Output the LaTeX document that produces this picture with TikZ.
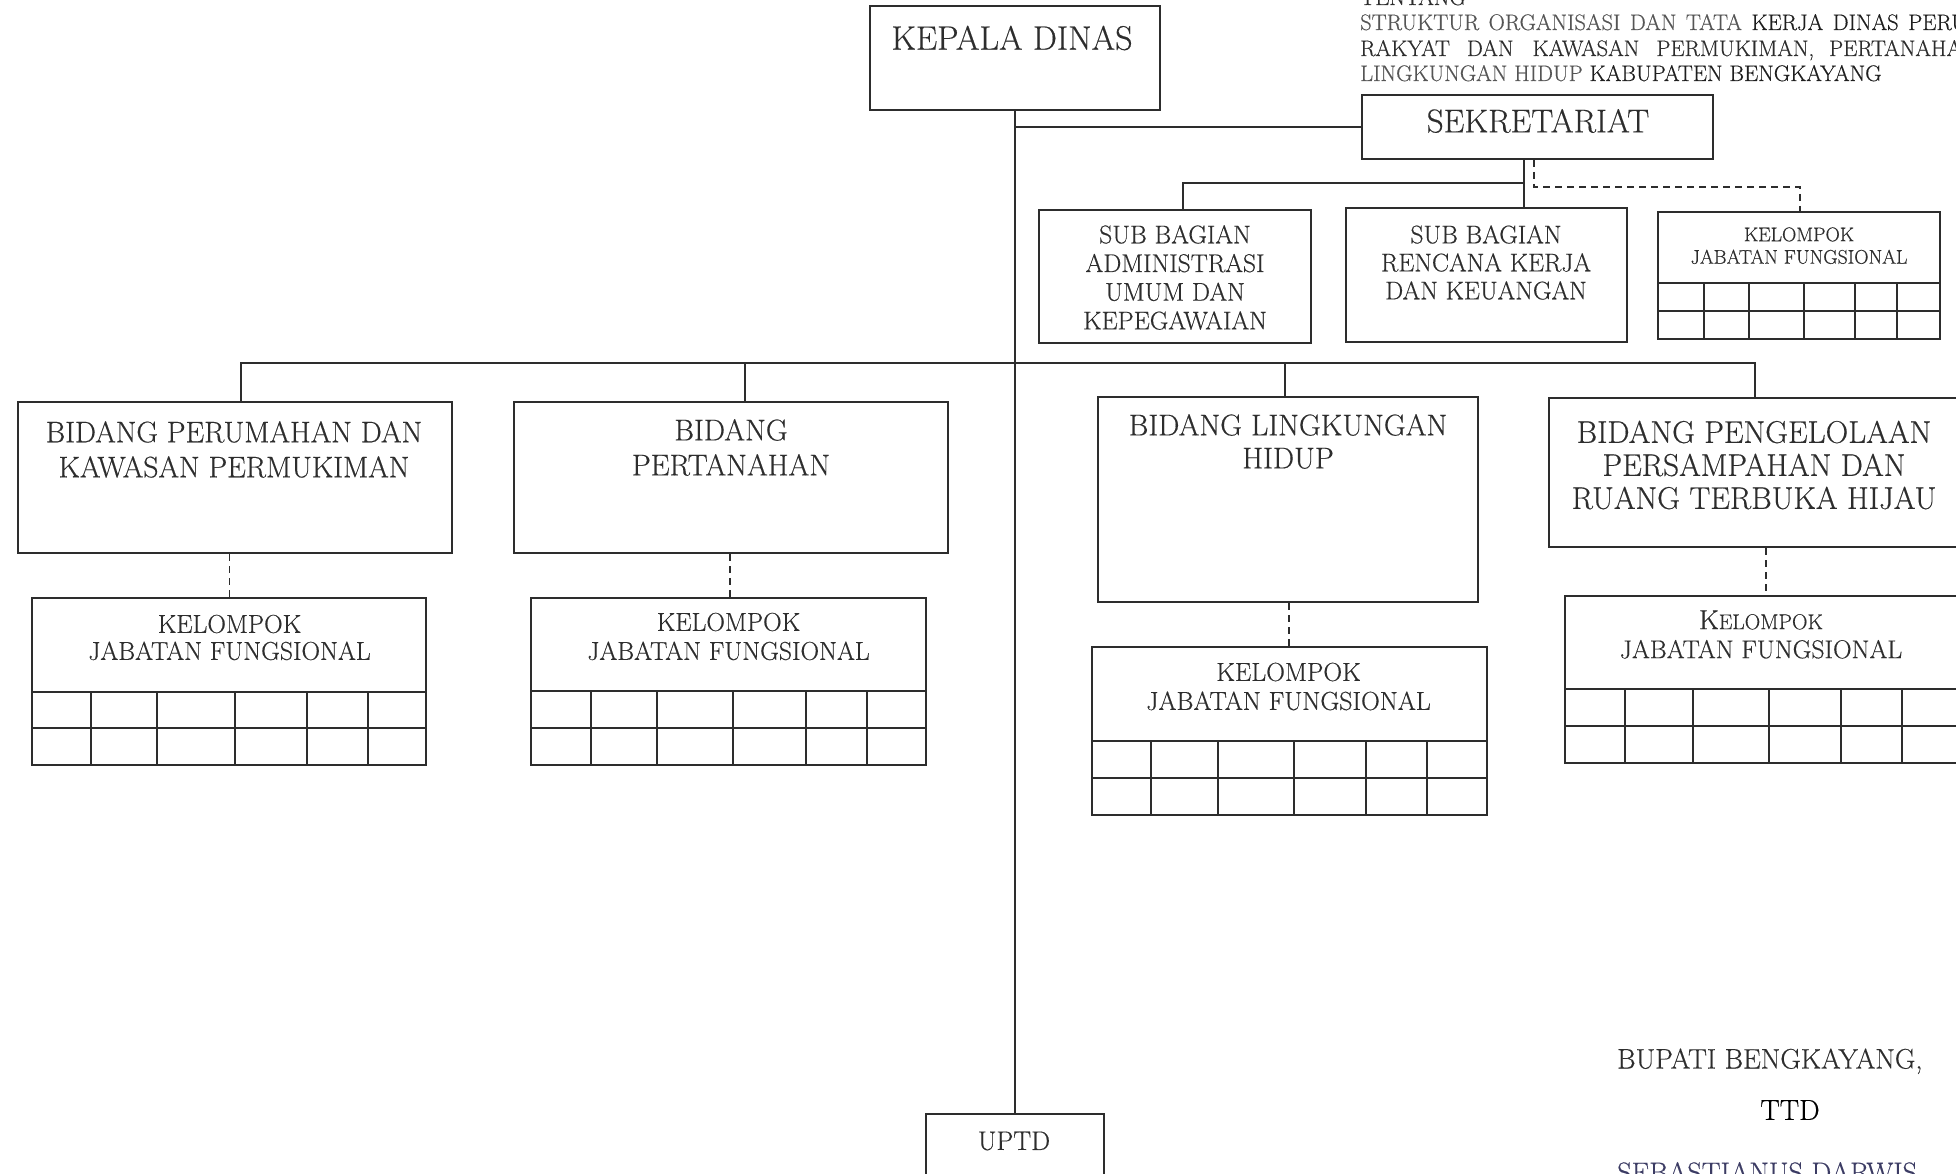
\documentclass[tikz,border=0pt]{standalone}
\usepackage{fontspec}
\setmainfont{Latin Modern Roman}[FakeBold=0.4]
\usetikzlibrary{fit}
\definecolor{ink}{RGB}{45,45,45}
\definecolor{txtc}{RGB}{45,45,45}
\definecolor{lighttxt}{RGB}{85,85,85}
\definecolor{darktxt}{RGB}{30,30,30}
\definecolor{bluetxt}{RGB}{60,60,100}
\newcommand\myfs[2]{\fontsize{#1}{#2}\selectfont}
\newcommand\wsp{\hspace{9.5pt}}
\tikzset{
  box/.style={draw=ink, line width=2pt, inner sep=0pt, fit={#1}},
  conn/.style={draw=ink, line width=2pt},
  dconn/.style={draw=ink, line width=1.8pt, dash pattern=on 7pt off 5pt},
  gl/.style={draw=ink, line width=2pt},
  txt/.style={inner sep=0pt, align=center, text=txtc},
}
\begin{document}
\begin{tikzpicture}[x=1pt,y=-1pt]
\useasboundingbox (0,0) rectangle (1956,1174);
\fill[white] (0,0) rectangle (1956,1174);

% ---- heading text (top right) ----
\begin{scope}[every node/.style={txt, anchor=base west, font=\myfs{22.5}{26}}]
\node (h0) at (1360,5) {TENTANG};
\node (h1) at (1360,30) {\textcolor{lighttxt}{STRUKTUR\wsp ORGANISASI\wsp DAN\wsp TATA}\wsp\textcolor{darktxt}{KERJA\wsp DINAS\wsp PERU}};
\node (h2) at (1360,56) {RAKYAT\hspace{17pt}DAN\hspace{19pt}KAWASAN\hspace{17pt}PERMUKIMAN,\hspace{15pt}PERTANAHA};
\node (h3) at (1360,81) {\textcolor{lighttxt}{LINGKUNGAN HIDUP} \textcolor{darktxt}{KABUPATEN BENGKAYANG}};
\end{scope}

% ---- boxes ----
\node[box={(870,6) (1160,110)}] (kd) {};
\node[box={(1362,95) (1713,159)}] (sek) {};
\node[box={(1039,210) (1311,343)}] (s1) {};
\node[box={(1346,208) (1627,342)}] (s2) {};
\node[box={(1658,212) (1940,339)}] (s3) {};
\node[box={(18,402) (452,553)}] (b1) {};
\node[box={(514,402) (948,553)}] (b2) {};
\node[box={(1098,397) (1478,602)}] (b3) {};
\node[box={(1549,398) (1965,547)}] (b4) {};
\node[box={(32,598) (426,765)}] (k1) {};
\node[box={(531,598) (926,765)}] (k2) {};
\node[box={(1092,647) (1487,815)}] (k3) {};
\node[box={(1565,596) (1965,763)}] (k4) {};
\node[box={(926,1114) (1104,1190)}] (uptd) {};

% ---- grids in kelompok boxes ----
\draw[gl] (1658,283) -- (1940,283) (1658,311) -- (1940,311);
\foreach \x in {1704,1749,1804,1855,1897} \draw[gl] (\x,283) -- (\x,339);
\draw[gl] (32,692) -- (426,692) (32,728) -- (426,728);
\foreach \x in {91,157,235,307,368} \draw[gl] (\x,692) -- (\x,765);
\draw[gl] (531,691) -- (926,691) (531,728) -- (926,728);
\foreach \x in {591,657,733,806,867} \draw[gl] (\x,691) -- (\x,765);
\draw[gl] (1092,741) -- (1487,741) (1092,778) -- (1487,778);
\foreach \x in {1151,1218,1294,1366,1427} \draw[gl] (\x,741) -- (\x,815);
\draw[gl] (1565,689) -- (1965,689) (1565,726) -- (1965,726);
\foreach \x in {1625,1693,1769,1841,1902} \draw[gl] (\x,689) -- (\x,763);

% ---- texts in boxes ----
\node[txt, font=\myfs{34}{38}] (kdt) at (1012,38) {KEPALA DINAS};
\node[txt, font=\myfs{33}{36}] (sekt) at (1538,121) {SEKRETARIAT};
\node[txt, font=\myfs{25.6}{28.7}] (s1t) at (1175,277.5) {SUB BAGIAN\\ADMINISTRASI\\UMUM DAN\\KEPEGAWAIAN};
\node[txt, font=\myfs{25.5}{28}] (s2t) at (1486,262.5) {SUB BAGIAN\\RENCANA KERJA\\DAN KEUANGAN};
\node[txt, font=\myfs{19.8}{22.5}] (s3t) at (1799,245.7) {KELOMPOK\\JABATAN FUNGSIONAL};
\node[txt, font=\myfs{29.7}{35}] (b1t) at (234,449.5) {BIDANG PERUMAHAN DAN\\KAWASAN PERMUKIMAN};
\node[txt, font=\myfs{30}{35}] (b2t) at (731,447.5) {BIDANG\\PERTANAHAN};
\node[txt, font=\myfs{30}{33}] (b3t) at (1288,441.5) {BIDANG LINGKUNGAN\\HIDUP};
\node[txt, font=\myfs{31.3}{33}] (b4t) at (1754,465) {BIDANG PENGELOLAAN\\PERSAMPAHAN DAN\\RUANG TERBUKA HIJAU};
\node[txt, font=\myfs{25.8}{27}] (k1t) at (229.5,637.5) {KELOMPOK\\JABATAN FUNGSIONAL};
\node[txt, font=\myfs{25.8}{29}] (k2t) at (728.5,636.5) {KELOMPOK\\JABATAN FUNGSIONAL};
\node[txt, font=\myfs{26}{29}] (k3t) at (1288.5,686.5) {KELOMPOK\\JABATAN FUNGSIONAL};
\node[txt, font=\myfs{25.8}{29}] (k4t) at (1761,634.5) {{\myfs{27.5}{29}K}{\myfs{21.5}{29}ELOMPOK}\\JABATAN FUNGSIONAL};
\node[txt, font=\myfs{26.8}{30}] (uptdt) at (1014,1141) {UPTD};

% ---- signature ----
\node[txt, anchor=base west, font=\myfs{28.2}{32}] (bup) at (1617,1068.5) {BUPATI BENGKAYANG,};
\node[txt, font=\myfs{29}{32}, text=black] (ttd) at (1790,1110) {TTD};
\node[txt, anchor=base west, font=\myfs{28.2}{32}, text=bluetxt] (nama) at (1617,1182) {SEBASTIANUS DARWIS};

% ---- connectors ----
\coordinate (j1) at (1524,183);
\coordinate (j2) at (1183,183);
\coordinate (d1) at (1534,187);
\coordinate (d2) at (1800,187);
\coordinate (bL) at (241,363);
\coordinate (bR) at (1755,363);
\coordinate (bM2) at (745,363);
\coordinate (bM3) at (1285,363);

\draw[conn] (kd.south) -- (kd.south |- uptd.north);
\draw[conn] (kd.south |- sek.west) -- (sek.west);
\draw[conn] (sek.south -| j1) -- (j1 |- s2.north);
\draw[conn] (j1) -- (j2) -- (j2 |- s1.north);
\draw[dconn] (sek.south -| d1) -- (d1) -- (d2) -- (d2 |- s3.north);

\draw[conn] (bL |- b1.north) -- (bL) -- (bR) -- (bR |- b4.north);
\draw[conn] (bM2) -- (bM2 |- b2.north);
\draw[conn] (bM3) -- (bM3 |- b3.north);

\draw[dconn] (b1.south -| k1t) -- (k1.north -| k1t);
\draw[dconn] (b2.south -| 730,0) -- (k2.north -| 730,0);
\draw[dconn] (b3.south -| 1289,0) -- (k3.north -| 1289,0);
\draw[dconn] (b4.south -| 1766,0) -- (k4.north -| 1766,0);
\end{tikzpicture}
\end{document}
